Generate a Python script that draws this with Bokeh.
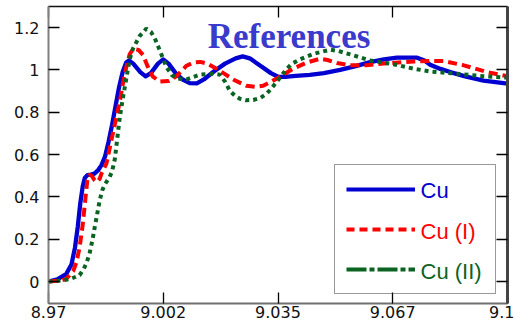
from bokeh.plotting import figure
from bokeh.models import (Range1d, FixedTicker, LinearAxis, Legend, LegendItem, Label)
from bokeh.embed import file_html
from bokeh.resources import INLINE

# ---- data (energy in keV, normalized absorption) ----
cu_x = [8.970, 8.9725, 8.9750, 8.9765, 8.9775, 8.9783, 8.9790, 8.9797, 8.9803, 8.9810,
        8.9820, 8.9830, 8.9840, 8.9850, 8.9860, 8.9870, 8.9880, 8.9890, 8.9900, 8.9910,
        8.9920, 8.9928, 8.9940, 8.9960, 8.9975, 8.9990, 9.0010, 9.0025, 9.0040, 9.0060,
        9.0080, 9.0100, 9.0120, 9.0140, 9.0170, 9.0200, 9.0230, 9.0250, 9.0270, 9.0300,
        9.0330, 9.0350, 9.0370, 9.0400, 9.0440, 9.0480, 9.0526, 9.0570, 9.0611, 9.0650,
        9.0687, 9.0744, 9.0765, 9.0781, 9.0810, 9.0838, 9.0880, 9.0932, 9.1000]
cu_y = [0.000, 0.010, 0.035, 0.080, 0.160, 0.260, 0.370, 0.450, 0.490, 0.503,
        0.505, 0.510, 0.525, 0.550, 0.590, 0.660, 0.740, 0.830, 0.920, 0.990,
        1.035, 1.045, 1.030, 0.990, 0.970, 0.985, 1.030, 1.050, 1.030, 0.985,
        0.955, 0.938, 0.937, 0.955, 0.995, 1.030, 1.055, 1.064, 1.055, 1.020,
        0.985, 0.968, 0.967, 0.972, 0.977, 0.985, 1.000, 1.018, 1.037, 1.050,
        1.058, 1.058, 1.045, 1.025, 1.005, 0.990, 0.970, 0.950, 0.935]

cu1_x = [8.970, 8.9736, 8.9750, 8.9770, 8.9779, 8.9788, 8.9797, 8.9805, 8.9810, 8.9815,
         8.9822, 8.9830, 8.9837, 8.9845, 8.9850, 8.9864, 8.9878, 8.9890, 8.9902, 8.9910,
         8.9920, 8.9930, 8.9940, 8.9955, 8.9968, 8.9980, 8.9995, 9.0015, 9.0040, 9.0062,
         9.0091, 9.0110, 9.0130, 9.0150, 9.0176, 9.0200, 9.0223, 9.0261, 9.0285, 9.0308,
         9.0346, 9.0393, 9.0431, 9.0469, 9.0490, 9.0517, 9.0554, 9.0600, 9.0649, 9.0734,
         9.0780, 9.0819, 9.0876, 9.0942, 9.1000]
cu1_y = [0.000, 0.005, 0.012, 0.050, 0.090, 0.160, 0.270, 0.400, 0.480, 0.505,
         0.500, 0.480, 0.470, 0.485, 0.510, 0.557, 0.667, 0.760, 0.850, 0.930,
         1.010, 1.075, 1.100, 1.095, 1.070, 1.020, 0.970, 0.945, 0.948, 0.970,
         1.020, 1.035, 1.038, 1.030, 1.006, 0.980, 0.955, 0.925, 0.920, 0.925,
         0.959, 1.006, 1.035, 1.053, 1.047, 1.033, 1.022, 1.022, 1.030, 1.040,
         1.043, 1.042, 1.022, 0.990, 0.970]

cu2_x = [8.970, 8.9740, 8.9764, 8.9788, 8.9800, 8.9807, 8.9816, 8.9825, 8.9831, 8.9838,
         8.9845, 8.9852, 8.9860, 8.9873, 8.9880, 8.9888, 8.9895, 8.9902, 8.9911, 8.9921,
         8.9930, 8.9939, 8.9958, 8.9977, 8.9990, 9.0001, 9.0015, 9.0034, 9.0050, 9.0062,
         9.0080, 9.0091, 9.0129, 9.0166, 9.0185, 9.0200, 9.0214, 9.0230, 9.0242, 9.0260,
         9.0280, 9.0300, 9.0318, 9.0330, 9.0346, 9.0375, 9.0390, 9.0412, 9.0450, 9.0498,
         9.0520, 9.0554, 9.0611, 9.0677, 9.0734, 9.0781, 9.0857, 9.0933, 9.1000]
cu2_y = [0.000, 0.005, 0.013, 0.030, 0.060, 0.085, 0.130, 0.200, 0.257, 0.320,
         0.383, 0.430, 0.460, 0.493, 0.520, 0.580, 0.680, 0.777, 0.870, 0.966,
         1.050, 1.100, 1.160, 1.195, 1.180, 1.150, 1.093, 1.014, 0.975, 0.962,
         0.955, 0.955, 0.978, 0.982, 0.978, 0.945, 0.900, 0.875, 0.864, 0.857,
         0.858, 0.868, 0.888, 0.910, 0.943, 1.006, 1.030, 1.050, 1.076, 1.096,
         1.090, 1.074, 1.045, 1.027, 1.006, 0.993, 0.982, 0.970, 0.964]

x_ticks = [8.97, 9.0025, 9.035, 9.0675, 9.1]
x_tick_labels = ["8.97", "9.002", "9.035", "9.067", "9.1"]
y_ticks = [0, 0.2, 0.4, 0.6, 0.8, 1.0, 1.2]
y_tick_labels = ["0", "0.2", "0.4", "0.6", "0.8", "1", "1.2"]
series_names = ["Cu", "Cu (I)", "Cu (II)"]
series_colors = ["#0000d0", "#ff0000", "#0b6322"]
nan = float("nan")

W, H = 514, 324
p = figure(width=W, height=H, output_backend="svg", toolbar_location=None,
           x_range=Range1d(8.97, 9.1), y_range=Range1d(-0.104, 1.30),
           min_border_left=48, min_border_right=7, min_border_top=6, min_border_bottom=21,
           x_axis_location="below", y_axis_location="left")
p.grid.visible = False
p.outline_line_color = None
p.background_fill_color = "white"
p.border_fill_color = "white"

tick_font = "DejaVu Sans"

def style_axis(ax, labels=True, color="#777777", width=2):
    ax.axis_line_color = color
    ax.axis_line_width = width
    ax.major_tick_in = 11
    ax.major_tick_out = 0
    ax.minor_tick_line_color = None
    ax.major_tick_line_color = "black"
    ax.major_tick_line_width = 1.3
    if labels:
        ax.major_label_text_font = tick_font
        ax.major_label_text_font_size = "16px"
        ax.major_label_text_color = "#111111"
    else:
        ax.major_label_text_font_size = "0px"
        ax.major_label_text_alpha = 0

xov = {v: s for v, s in zip(x_ticks, x_tick_labels)}
yov = {v: s for v, s in zip(y_ticks, y_tick_labels)}

bx = p.xaxis[0]
bx.ticker = FixedTicker(ticks=x_ticks)
bx.major_label_overrides = xov
bx.major_label_standoff = 2
style_axis(bx, True, "#707070", 2)

ly = p.yaxis[0]
ly.ticker = FixedTicker(ticks=y_ticks)
ly.major_label_overrides = yov
ly.major_label_standoff = 9
style_axis(ly, True, "#808080", 2)

top = LinearAxis(ticker=FixedTicker(ticks=x_ticks))
style_axis(top, False, "#111111", 1.5)
p.add_layout(top, "above")

right = LinearAxis(ticker=FixedTicker(ticks=y_ticks))
style_axis(right, False, "#444444", 3)
p.add_layout(right, "right")

r_cu = p.line(cu_x, cu_y, line_color=series_colors[0], line_width=4.3, line_join="round")
r_cu1 = p.line(cu1_x, cu1_y, line_color=series_colors[1], line_width=4, line_dash="9 5")
r_cu2 = p.line(cu2_x, cu2_y, line_color=series_colors[2], line_width=4, line_dash="4 4")

# legend-only glyphs (no visible data) with the legend's line styles
g0 = p.line([nan], [nan], line_color=series_colors[0], line_width=4)
g1 = p.line([nan], [nan], line_color=series_colors[1], line_width=4, line_dash="8 5")
g2 = p.line([nan], [nan], line_color=series_colors[2], line_width=4, line_dash="20 3 5 3")

legend = Legend(items=[LegendItem(label=series_names[0], renderers=[g0]),
                       LegendItem(label=series_names[1], renderers=[g1]),
                       LegendItem(label=series_names[2], renderers=[g2])],
                location=(286, 9), padding=11, spacing=14, margin=0,
                glyph_width=69, glyph_height=22, label_height=22, label_width=65,
                label_standoff=4, label_text_font="Liberation Sans",
                label_text_font_size="22px", label_text_alpha=0,
                border_line_color="#333333", border_line_width=1.5,
                background_fill_alpha=0)
p.add_layout(legend, "center")

label_ys = [113, 72.5, 32]
for name, col, ly_ in zip(series_names, series_colors, label_ys):
    p.add_layout(Label(x=372, y=ly_, x_units="screen", y_units="screen", text=name,
                       text_color=col, text_font="Liberation Sans", text_font_size="22px",
                       text_align="left", text_baseline="middle"))

p.add_layout(Label(x=240.5, y=267, x_units="screen", y_units="screen", text="References",
                   text_color="#3a3acc", text_font="Liberation Serif", text_font_style="bold",
                   text_font_size="35px", text_align="center", text_baseline="alphabetic"))

html = file_html(p, INLINE)
html = html.replace("</head>", "<style>html,body{margin:0;padding:0;overflow:hidden}</style></head>", 1)
open("out.html", "w").write(html)
